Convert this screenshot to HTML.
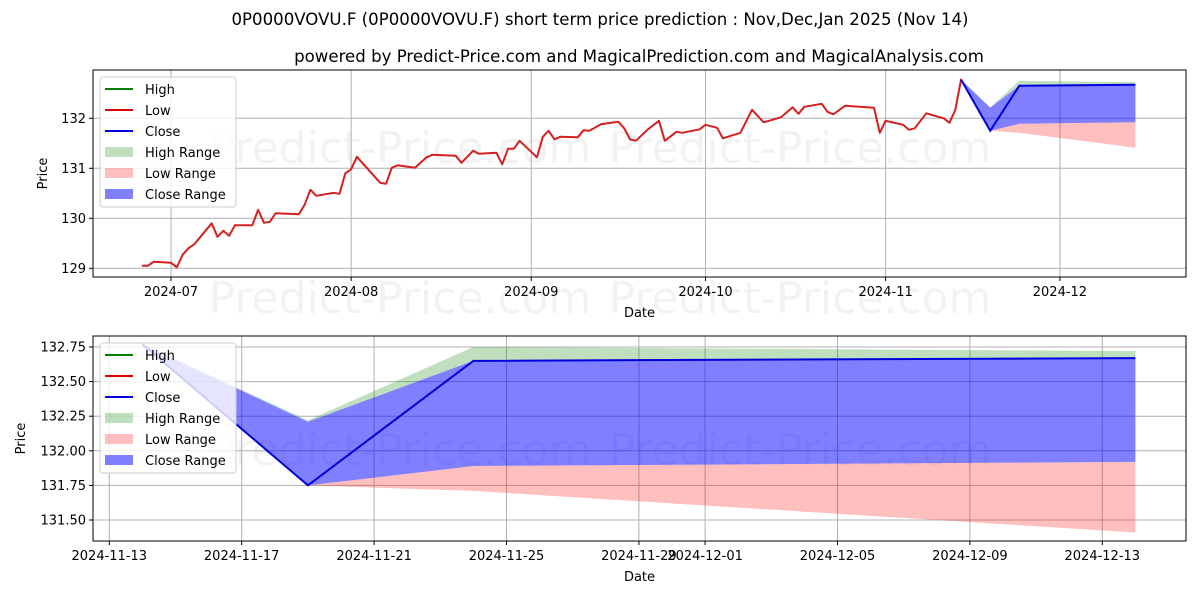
<!DOCTYPE html>
<html><head><meta charset="utf-8"><style>
body{margin:0;background:#fff;}
svg{display:block;font-family:"DejaVu Sans","Liberation Sans",sans-serif;}
</style></head><body>
<svg id="chart" width="1200" height="600" viewBox="0 0 1200 600" xmlns="http://www.w3.org/2000/svg">
<rect width="1200" height="600" fill="#fff"/>
<text x="600" y="25" text-anchor="middle" font-size="16.6">0P0000VOVU.F (0P0000VOVU.F) short term price prediction : Nov,Dec,Jan 2025 (Nov 14)</text>
<text x="639" y="62" text-anchor="middle" font-size="16.6">powered by Predict-Price.com and MagicalPrediction.com and MagicalAnalysis.com</text>
<g id="top"></g>
<g id="bottom"></g>
</svg>
<script>
// Historical prices: days since 2024-07-01
const histDays = [-5,-4,-3,0,1,2,3,4,7,8,9,10,11,14,15,16,17,18,22,23,24,25,28,29,30,31,32,36,37,38,39,42,44,45,49,50,52,53,56,57,58,59,60,63,64,65,66,67,70,71,72,74,77,78,79,80,82,84,85,87,88,91,92,94,95,98,100,102,105,107,108,109,112,113,114,116,121,122,123,126,127,128,130,133,134,135,136];
const histValues = [129.05,129.05,129.13,129.11,129.02,129.27,129.40,129.48,129.90,129.63,129.75,129.65,129.86,129.86,130.17,129.91,129.93,130.10,130.08,130.27,130.57,130.45,130.51,130.49,130.90,130.98,131.23,130.71,130.69,131.01,131.06,131.01,131.22,131.27,131.25,131.11,131.35,131.29,131.31,131.08,131.39,131.39,131.55,131.22,131.63,131.75,131.58,131.63,131.62,131.76,131.75,131.88,131.93,131.80,131.58,131.55,131.77,131.95,131.55,131.73,131.71,131.78,131.87,131.81,131.60,131.71,132.17,131.92,132.02,132.22,132.09,132.23,132.29,132.13,132.08,132.25,132.21,131.71,131.95,131.87,131.77,131.80,132.10,132.00,131.91,132.17,132.79];
// Forecast: days since 2024-07-01 (Nov14, Nov19, Nov24, Dec14)
const fcDays = [136,141,146,166];
const fcClose = [132.77,131.75,132.65,132.67];
const highUpper = [132.77,132.22,132.75,132.72];
const highLower = [132.77,132.21,132.65,132.67];
const closeUpper = [132.77,132.21,132.65,132.67];
const closeLower = [132.77,131.75,131.89,131.92];
const lowUpper = [132.77,131.75,131.89,131.92];
const lowLower = [132.77,131.75,131.71,131.41];
const topYTicks = [129,130,131,132];
const topXTickDays = [0,31,62,92,123,153];
const topXTickLabels = ["2024-07","2024-08","2024-09","2024-10","2024-11","2024-12"];
const botYTicks = [131.50,131.75,132.00,132.25,132.50,132.75];
const botXTickDays = [135,139,143,147,151,153,157,161,165];
const botXTickLabels = ["2024-11-13","2024-11-17","2024-11-21","2024-11-25","2024-11-29","2024-12-01","2024-12-05","2024-12-09","2024-12-13"];

const NS="http://www.w3.org/2000/svg";
function mk(parent,tag,attrs,txt){const e=document.createElementNS(NS,tag);for(const k in attrs)e.setAttribute(k,attrs[k]);if(txt!==undefined)e.textContent=txt;parent.appendChild(e);return e;}

function panel(g,opt){
  const {L,R,T,B,xs,ys}=opt;
  const clipId=opt.id+"-clip";
  const cp=mk(g,"clipPath",{id:clipId});mk(cp,"rect",{x:L,y:T,width:R-L,height:B-T});
  opt.wm.forEach(p=>{const t=mk(g,"text",{x:p[0],y:p[1],"text-anchor":"middle","font-size":44,fill:"#000","fill-opacity":0.05},"Predict-Price.com");
    
    });
  opt.yt.forEach(v=>{const l=mk(g,"line",{x1:L,x2:R,y1:ys(v),y2:ys(v),stroke:"#b0b0b0","stroke-width":1});
    
    
    mk(g,"line",{x1:L-4,x2:L,y1:ys(v),y2:ys(v),stroke:"#000"});
    const t=mk(g,"text",{x:L-7,y:ys(v)+4.5,"text-anchor":"end","font-size":13},opt.yfmt(v));
    
    });
  opt.xt.forEach((d,i)=>{const x=xs(d);const l=mk(g,"line",{x1:x,x2:x,y1:T,y2:B,stroke:"#b0b0b0","stroke-width":1});
    
    
    mk(g,"line",{x1:x,x2:x,y1:B,y2:B+4,stroke:"#000"});
    const t=mk(g,"text",{x:x,y:B+19,"text-anchor":"middle","font-size":13},opt.xl[i]);
    
    });
  const c=mk(g,"g",{"clip-path":"url(#"+clipId+")"});
  function band(up,lo,color,alpha,name){
    let p="";fcDays.forEach((d,i)=>{p+=(i?"L":"M")+xs(d)+","+ys(up[i]);});
    for(let i=fcDays.length-1;i>=0;i--)p+="L"+xs(fcDays[i])+","+ys(lo[i]);
    const e=mk(c,"path",{d:p+"Z",fill:color,"fill-opacity":alpha,stroke:"none"});
    
    
  }
  band(highUpper,highLower,"#008000",0.25,"high-range-band");
  band(lowUpper,lowLower,"#ff0000",0.25,"low-range-band");
  band(closeUpper,closeLower,"#0000ff",0.5,"close-range-band");
  if(opt.hist){
    let p="";histDays.forEach((d,i)=>{p+=(i?"L":"M")+xs(d).toFixed(1)+","+ys(histValues[i]).toFixed(1);});
    const h=mk(c,"path",{d:p,fill:"none",stroke:"#d62020","stroke-width":2,"stroke-linejoin":"round"});
    
    
  }
  let p="";fcDays.forEach((d,i)=>{p+=(i?"L":"M")+xs(d)+","+ys(fcClose[i]);});
  const cl=mk(c,"path",{d:p,fill:"none",stroke:"#0000dd","stroke-width":2});
  
  
  const fr=mk(g,"rect",{x:L,y:T,width:R-L,height:B-T,fill:"none",stroke:"#000","stroke-width":1});
  
  
  const yl=mk(g,"text",{x:opt.ylx,y:(T+B)/2,"text-anchor":"middle","font-size":13,transform:"rotate(-90 "+opt.ylx+" "+(T+B)/2+")"},"Price");
  
  
  const xl=mk(g,"text",{x:(L+R)/2,y:B+40,"text-anchor":"middle","font-size":13},"Date");
  
  
  const lg=mk(g,"g",{});
  
  
  const lx=L+7,ly=T+7;
  mk(lg,"rect",{x:lx,y:ly,width:136,height:130,rx:3,fill:"#fff","fill-opacity":0.8,stroke:"#ccc"});
  const items=[["High","line","#008000"],["Low","line","#dd0000"],["Close","line","#0000dd"],["High Range","box","rgba(0,128,0,0.25)"],["Low Range","box","rgba(255,0,0,0.25)"],["Close Range","box","rgba(0,0,255,0.5)"]];
  items.forEach((it,i)=>{const cy=ly+12+i*21;
    const ent=mk(lg,"g",{});
    
    
    if(it[1]=="line")mk(ent,"line",{x1:lx+5,x2:lx+33,y1:cy,y2:cy,stroke:it[2],"stroke-width":2});
    else mk(ent,"rect",{x:lx+5,y:cy-5,width:28,height:10,fill:it[2]});
    mk(ent,"text",{x:lx+45,y:cy+5,"font-size":13},it[0]);});
}
(function(){
  const L=93,R=1186,T=70,B=277;
  const xs=d=>171+d*5.81, ys=v=>118.3-(v-132)*50;
  panel(document.getElementById("top"),{id:"top",L,R,T,B,xs,ys,yt:topYTicks,yfmt:v=>String(v),xt:topXTickDays,xl:topXTickLabels,hist:true,ylx:47,wm:[[400,163],[800,163],[400,313],[800,313]]});
})();
(function(){
  const L=93,R=1186,T=336,B=541;
  const xs=d=>109.3+(d-135)*33.1, ys=v=>347-(v-132.75)*138.4;
  panel(document.getElementById("bottom"),{id:"bot",L,R,T,B,xs,ys,yt:botYTicks,yfmt:v=>v.toFixed(2),xt:botXTickDays,xl:botXTickLabels,hist:false,ylx:25,wm:[[400,465],[800,465]]});
})();
</script>
</body></html>
